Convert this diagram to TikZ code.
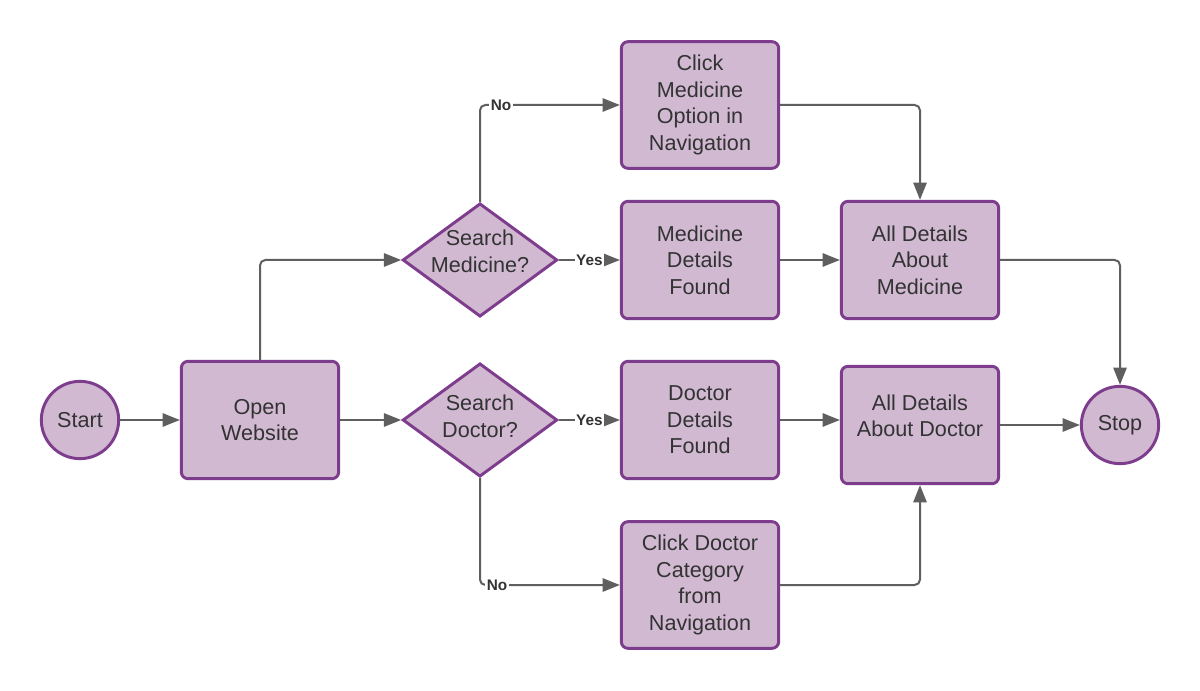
\documentclass[tikz,border=0pt]{standalone}
\usepackage{fontspec}
\setmainfont{Liberation Sans}
\usetikzlibrary{shapes.geometric,arrows.meta}
\definecolor{boxfill}{HTML}{D1B9D2}
\definecolor{boxline}{HTML}{7D3C8C}
\definecolor{connc}{HTML}{5F5F5F}
\definecolor{txt}{HTML}{333333}
\begin{document}
\begin{tikzpicture}[x=0.75pt,y=-0.75pt,
 textfont/.style={text=txt, font=\fontsize{16.2}{20}\selectfont, align=center},
 base/.style={draw=boxline, fill=boxfill, line width=2.2pt, textfont},
 procbox/.style={base, rectangle, rounded corners=5pt, minimum width=118pt, minimum height=88pt, inner sep=0pt},
 tallbox/.style={procbox, minimum height=95pt},
 term/.style={base, circle, minimum size=58pt, inner sep=0pt},
 decision/.style={base, diamond, minimum width=116pt, minimum height=85pt, inner sep=0pt, aspect=1.36},
 connector/.style={draw=connc, line width=1.5pt, -{Triangle[length=13pt,width=10pt]}, rounded corners=4pt},
 lbl/.style={fill=white, text=txt, font=\fontsize{11.5}{13}\selectfont\bfseries, inner sep=1pt}
]
\path[fill=white] (0,0) rectangle (1200,691);
\useasboundingbox (0,0) rectangle (1200,691);

\node[term] (start) at (80,420) {Start};
\node[procbox] (open) at (260,420) {Open\\Website};
\node[decision, label={[textfont, yshift=6.5pt]center:Search\\Medicine?}] (sm) at (480,260) {};
\node[decision, label={[textfont, yshift=3pt]center:Search\\Doctor?}] (sd) at (480,420) {};
\node[tallbox] (cm) at (700,105) {Click\\Medicine\\Option in\\Navigation};
\node[procbox] (md) at (700,260) {Medicine\\Details\\Found};
\node[procbox] (dd) at (700,420) {Doctor\\Details\\Found};
\node[tallbox] (cd) at (700,585) {Click Doctor\\Category\\from\\Navigation};
\node[procbox] (am) at (920,260) {All Details\\About\\Medicine};
\node[procbox] (ad) at (920,425) {All Details\\About Doctor\\[-6pt]};
\node[term] (stop) at (1120,425) {Stop};

\draw[connector] (start) -- (open);
\draw[connector] (open.north) |- (sm.west);
\draw[connector] (open.east) -- (sd.west);
\draw[connector] (sm.north) |- (cm.west);
\draw[connector] (sm.east) -- (md.west);
\draw[connector] (cm.east) -| (am.north);
\draw[connector] (md.east) -- (am.west);
\draw[connector] (am.east) -| (stop.north);
\draw[connector] (sd.east) -- (dd.west);
\draw[connector] (sd.south) |- (cd.west);
\draw[connector] (dd.east) -- (dd.east -| ad.west);
\draw[connector] (cd.east) -| (ad.south);
\draw[connector] (ad.east) -- (stop.west);

\path (sm.north |- cm.west) ++(21,0) node[lbl] {No};
\path (sd.south |- cd.west) ++(17,0) node[lbl] {No};
\path (sm.east) -- node[lbl] {Yes} (md.west);
\path (sd.east) -- node[lbl] {Yes} (dd.west);
\end{tikzpicture}
\end{document}
